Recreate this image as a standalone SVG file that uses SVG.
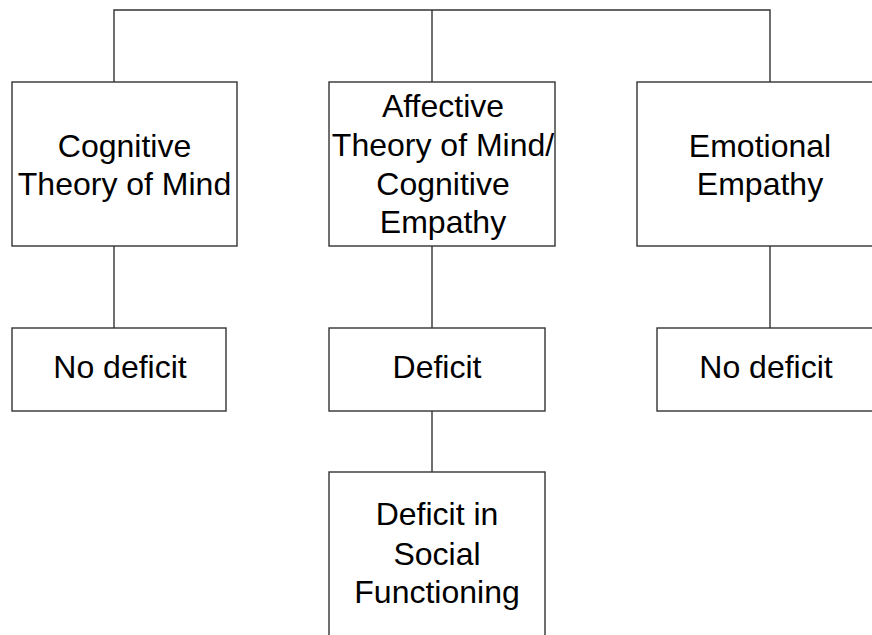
<svg xmlns="http://www.w3.org/2000/svg" width="872" height="635" viewBox="0 0 872 635">
<style>
.box{fill:#fff;stroke:#333;stroke-width:1.4}
.ln{fill:none;stroke:#333;stroke-width:1.4}
text{font-family:"Liberation Sans",Arial,sans-serif;font-size:32px;fill:#000;text-anchor:middle}
</style>
<rect width="872" height="635" fill="#fff"/>
<g id="connectors">
<path class="ln" d="M114 82V10H770V82"/>
<path class="ln" d="M432 10V82"/>
<path class="ln" d="M114 246V328"/>
<path class="ln" d="M432 246V328"/>
<path class="ln" d="M770 246V328"/>
<path class="ln" d="M432 411V472"/>
</g>
<g id="cognitive-tom">
<rect class="box" x="12" y="82" width="225" height="164"/>
<text x="124.5" y="157">Cognitive</text>
<text x="124.5" y="195">Theory of Mind</text>
</g>
<g id="affective-tom">
<rect class="box" x="329" y="82" width="226" height="164"/>
<text x="443" y="117">Affective</text>
<text x="443" y="156">Theory of Mind/</text>
<text x="443" y="195">Cognitive</text>
<text x="443" y="233">Empathy</text>
</g>
<g id="emotional-empathy">
<rect class="box" x="637" y="82" width="247" height="164"/>
<text x="760" y="157">Emotional</text>
<text x="760" y="195">Empathy</text>
</g>
<g id="no-deficit-1">
<rect class="box" x="12" y="328" width="214" height="83"/>
<text x="120" y="378">No deficit</text>
</g>
<g id="deficit">
<rect class="box" x="329" y="328" width="216" height="83"/>
<text x="437" y="378">Deficit</text>
</g>
<g id="no-deficit-2">
<rect class="box" x="657" y="328" width="226" height="83"/>
<text x="766" y="378">No deficit</text>
</g>
<g id="social-functioning">
<rect class="box" x="329" y="472" width="216" height="180"/>
<text x="437" y="525">Deficit in</text>
<text x="437" y="565">Social</text>
<text x="437" y="603">Functioning</text>
</g>
</svg>
